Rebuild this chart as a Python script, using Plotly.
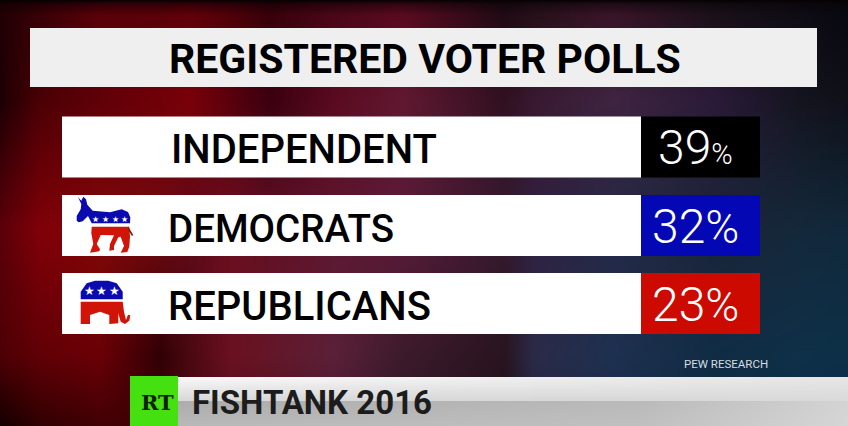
import numpy as np
import plotly.graph_objects as go

W, H = 848, 426

title = "REGISTERED VOTER POLLS"
parties = ["INDEPENDENT", "DEMOCRATS", "REPUBLICANS"]
shares = [39, 32, 23]
share_colors = ["#000000", "#0408b4", "#cc0a00"]
source = "PEW RESEARCH"
banner = "FISHTANK 2016"


def hex_rgb(h):
    return [int(h[i:i + 2], 16) for i in (1, 3, 5)]


grid_x = [0, 40, 100, 160, 190, 230, 270, 334, 403, 505, 534, 613, 715, 800, 848]
grid_y = [0, 4, 15, 100, 230, 355, 426]
grid = [
    ["#060102"] * 15,
    ["#140002", "#200004", "#300006", "#300006", "#340006", "#2c0006", "#200006", "#28040e", "#300612",
     "#14060c", "#180a10", "#200c18", "#100a10", "#0a080e", "#06060a"],
    ["#200004", "#380006", "#5a0008", "#5a0008", "#600008", "#500008", "#38000a", "#4a0618", "#5a0a20",
     "#200a14", "#261018", "#3a1428", "#1a1018", "#0e0c14", "#080810"],
    ["#1a0004", "#4a0004", "#600008", "#700008", "#7a0008", "#5a000c", "#3a0010", "#5a0a20", "#601830",
     "#301020", "#381830", "#3e2440", "#2a1a38", "#14141f", "#101018"],
    ["#5a0008", "#800008", "#800808", "#700a10", "#600a18", "#6a0e20", "#601024", "#5e1630", "#5a1a38",
     "#351a30", "#302040", "#242845", "#1a2438", "#14283a", "#10283a"],
    ["#4c0004", "#600006", "#6a0006", "#300005", "#4a0810", "#6a1020", "#641628", "#5a2038", "#3c1a2c",
     "#28141f", "#2a2a48", "#1e3050", "#102c44", "#0e3048", "#0c3048"],
    ["#140000", "#300002", "#400004", "#400004", "#4a0810", "#500e1c", "#500e1c", "#4a1830", "#301424",
     "#201018", "#222240", "#1a2a44", "#0e2a40", "#0c2c44", "#0a2c44"],
]
stops = np.array([[hex_rgb(c) for c in row] for row in grid], dtype=float)
xs = np.arange(W) + 0.5
ys = np.arange(H) + 0.5
by_x = np.stack([[np.interp(xs, grid_x, stops[r, :, c]) for c in range(3)] for r in range(len(grid_y))])
bg = np.stack([[np.interp(ys, grid_y, by_x[:, c, i]) for c in range(3)] for i in range(W)]).transpose(2, 0, 1)
bg = np.rint(bg).astype(np.uint8)

# Lower third strip baked into the same image
strip_x = [130, 640, 848]
up_top = np.interp(xs, strip_x, [250, 236, 230])
up_bot = np.interp(xs, strip_x, [216, 216, 218])
low_top = np.interp(xs, strip_x, [172, 186, 212])
low_bot = np.interp(xs, strip_x, [184, 192, 214])
for i in range(130, W):
    bg[377:401, i] = np.linspace(up_top[i], up_bot[i], 24)[:, None].astype(np.uint8)
    bg[401:, i] = np.linspace(low_top[i], low_bot[i], H - 401)[:, None].astype(np.uint8)

fig = go.Figure()
fig.add_trace(go.Image(z=bg, x0=0.5, y0=0.5, dx=1, dy=1, hoverinfo="skip"))

# Rows
row_mid = [147, 225.5, 303.5]
fig.add_trace(go.Bar(x=[579] * 3, base=62, y=row_mid, width=61, orientation="h",
                     marker=dict(color="#ffffff", line_width=0), hoverinfo="skip"))
fig.add_trace(go.Bar(x=[119] * 3, base=641, y=row_mid, width=61, orientation="h",
                     marker=dict(color=share_colors, line_width=0), hoverinfo="skip"))


def art(points):
    # outline points are in the 3x crop coordinates of the icon area
    pts = [(50 + x / 3, 180 + y / 3) for x, y in points]
    return "M " + " L ".join(f"{x:.1f} {y:.1f}" for x, y in pts) + " Z"


donkey_blue = [(80, 122), (80, 108), (92, 88), (94, 72), (84, 52), (94, 62), (100, 50), (108, 58), (112, 74),
               (128, 92), (180, 97), (215, 88), (234, 96), (241, 112), (240, 130), (125, 130), (114, 108),
               (98, 124), (86, 127)]
donkey_red = [(125, 140), (238, 140), (240, 170), (238, 200), (232, 216), (212, 218), (222, 198), (212, 170),
              (205, 172), (192, 198), (192, 210), (178, 212), (180, 192), (192, 166), (152, 165), (140, 192),
              (150, 208), (148, 214), (120, 218), (130, 192), (124, 160)]
donkey_tail = [(235, 140), (250, 165), (246, 168), (234, 150)]
elephant_blue = [(92, 358), (92, 335), (110, 310), (135, 302), (175, 302), (200, 310), (218, 335), (218, 358)]
elephant_red = [(92, 365), (218, 365), (222, 395), (228, 420), (234, 404), (241, 406), (238, 422), (225, 432),
                (212, 425), (205, 400), (205, 430), (178, 432), (178, 405), (150, 395), (120, 405), (120, 432),
                (92, 432)]

shapes = [
    dict(type="rect", x0=30, x1=817, y0=28, y1=87, fillcolor="#efefef", line_width=0),
    dict(type="rect", x0=130, x1=178, y0=376, y1=426, fillcolor="#44e010", line_width=0),
]
for pts, col in [(donkey_blue, "#0a0ab0"), (donkey_red, "#d01408"), (donkey_tail, "#8a1a10"),
                 (elephant_blue, "#0a0ab0"), (elephant_red, "#d01408")]:
    shapes.append(dict(type="path", path=art(pts), fillcolor=col, line_width=0))


def label(x, y, text, size, color="#000000", family="Roboto", weight=500, anchor="left"):
    fig.add_annotation(x=x, y=y, text=text, showarrow=False, xanchor=anchor, yanchor="middle",
                       font=dict(family=family, size=size, color=color, weight=weight))


label(424.5, 58.5, title, 41, weight=700, anchor="center")
for y, name, x, size in zip(row_mid, parties, [169, 166, 166], [40, 38.5, 40]):
    label(x, y + 2.5, name, size)

# the first share has a smaller percent sign in the original
pct_sizes = [29, 46, 46]
for y, val, ps in zip(row_mid, shares, pct_sizes):
    label(695, y + 0.5, f"{val}<span style='font-size:{ps}px'>%</span>", 48, color="#ffffff", weight=300,
          anchor="center")

for x, y in [(95, 219), (105, 219), (115, 219), (124, 219)]:
    label(x, y, "★", 8, color="#ffffff", family="DejaVu Sans", weight=400, anchor="center")
for x, y in [(89, 291), (101, 291), (114, 291)]:
    label(x, y, "★", 12, color="#ffffff", family="DejaVu Sans", weight=400, anchor="center")

label(725.5, 364, source, 11.5, color="#d4dce0", weight=400, anchor="center")
label(157, 402, "RT", 21, color="#102008", family="DejaVu Serif", weight=700, anchor="center")
label(190, 402, banner, 33, color="#1c1c1c", weight=700)

fig.update_layout(
    width=W, height=H,
    margin=dict(l=0, r=0, t=0, b=0),
    showlegend=False,
    shapes=shapes,
    barmode="overlay",
    paper_bgcolor="#000000",
    plot_bgcolor="#000000",
    xaxis=dict(range=[0, W], visible=False, fixedrange=True, constrain="domain"),
    yaxis=dict(range=[H, 0], visible=False, fixedrange=True),
)

fig.write_html("out.html", config={"displayModeBar": False},
               post_script="document.body.style.margin='0';document.body.style.overflow='hidden';")
